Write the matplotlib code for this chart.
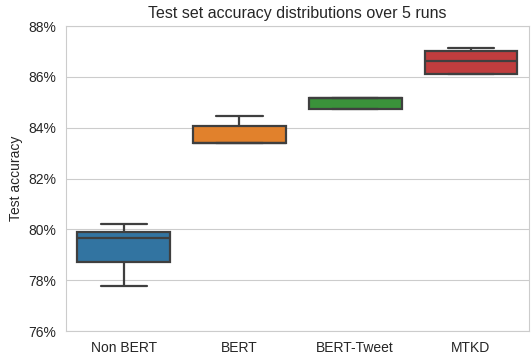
import numpy as np
import pandas as pd
import matplotlib
matplotlib.use("Agg")
import matplotlib.pyplot as plt
import seaborn as sns

# test accuracy (%) over 5 runs for each model
models = ["Non BERT", "BERT", "BERT-Tweet", "MTKD"]
non_bert = [77.79, 78.72, 79.65, 79.92, 80.20]
bert = [83.42, 83.42, 83.42, 84.08, 84.48]
bert_tweet = [84.73, 84.73, 85.18, 85.18, 85.18]
mtkd = [86.10, 86.10, 86.62, 87.04, 87.15]

runs = [non_bert, bert, bert_tweet, mtkd]
df = pd.DataFrame({
    "model": np.repeat(models, [len(r) for r in runs]),
    "acc": np.concatenate(runs),
})

sns.set_style("whitegrid")
plt.rcParams["font.family"] = ["Liberation Sans", "DejaVu Sans"]

fig, ax = plt.subplots(figsize=(5.31, 3.58), dpi=100)
fig.subplots_adjust(left=0.124, right=0.996, top=0.927, bottom=0.075)

sns.boxplot(data=df, x="model", y="acc", hue="model", palette="tab10",
            saturation=0.75, width=0.8, linewidth=1.6, linecolor="#3f3f3f",
            legend=False, ax=ax)

ax.set_ylim(76, 88)
ax.set_yticks(np.arange(76, 89, 2))
ax.yaxis.set_major_formatter(matplotlib.ticker.StrMethodFormatter("{x:.0f}%"))
ax.set_xlabel("")
ax.set_ylabel("Test accuracy", fontsize=10)
ax.set_title("Test set accuracy distributions over 5 runs", fontsize=11.5)
ax.tick_params(labelsize=10, colors="#262626")
ax.xaxis.grid(False)

fig.savefig("out.png")
